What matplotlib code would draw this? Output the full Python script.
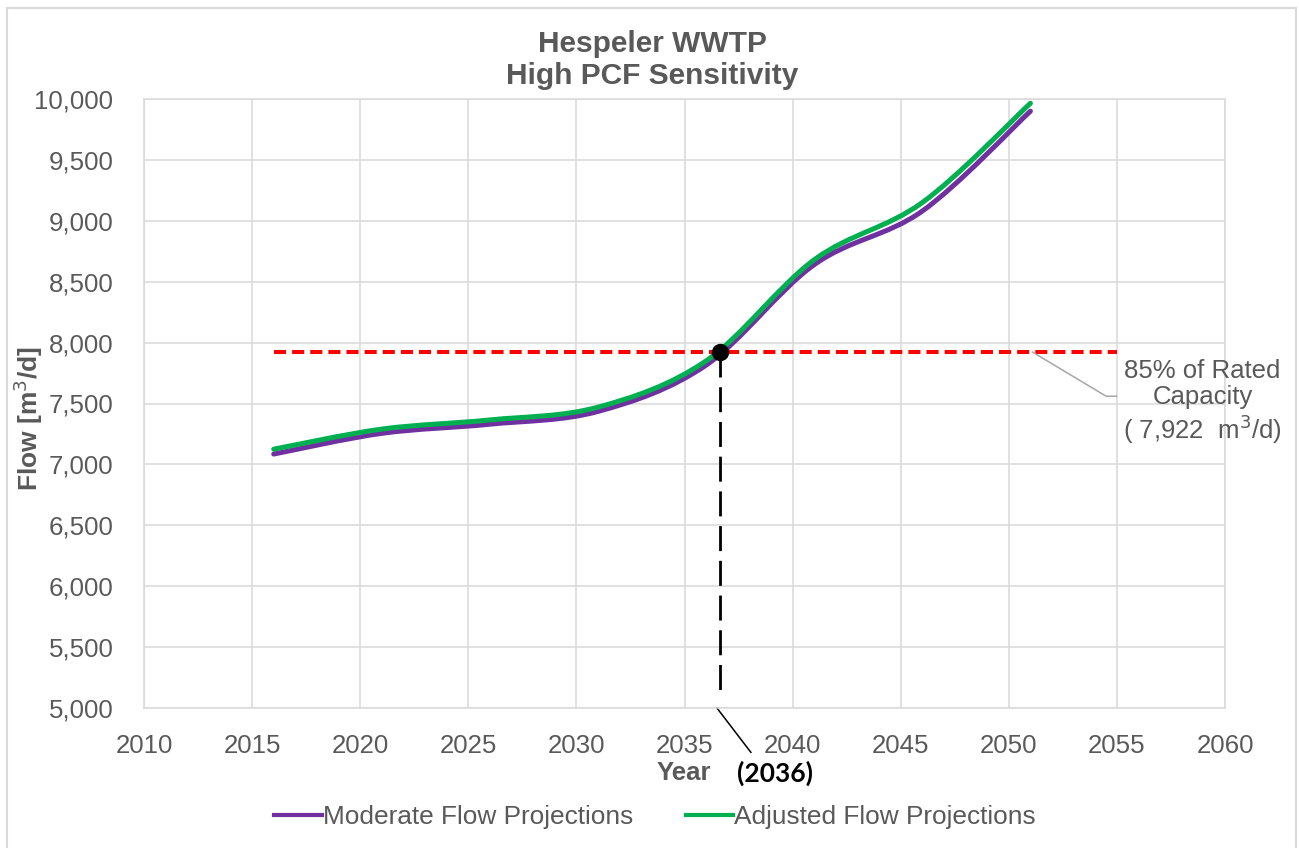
import numpy as np
import matplotlib.pyplot as plt
from matplotlib.path import Path
from matplotlib.patches import PathPatch, Rectangle
from matplotlib.lines import Line2D
from matplotlib.ticker import FuncFormatter

plt.rcParams['font.family'] = ['Liberation Sans', 'DejaVu Sans']

# ------------------------------------------------------------------
# data
years     = [2016, 2021, 2026, 2031, 2036, 2041, 2046, 2051]
moderate  = [7085, 7255, 7330, 7435, 7815, 8640, 9080, 9900]
adjusted  = [7125, 7290, 7365, 7470, 7850, 8680, 9150, 9965]

cap_years = [2016, 2055]
capacity  = 7922
cross_year = 2036.65
cross_label = "(2036)"

gray = '#595959'
grid = '#D9D9D9'


def smooth_path(x, y):
    # excel style smoothed line: bezier segments through the points
    x = np.asarray(x, float)
    y = np.asarray(y, float)
    pts = np.column_stack([x, y])
    n = len(pts)
    verts = [pts[0]]
    codes = [Path.MOVETO]
    for i in range(n - 1):
        p0 = pts[i - 1] if i > 0 else pts[i]
        p1 = pts[i]
        p2 = pts[i + 1]
        p3 = pts[i + 2] if i + 2 < n else pts[i + 1]
        c1 = p1 + (p2 - p0) / 6.0
        c2 = p2 - (p3 - p1) / 6.0
        verts += [c1, c2, p2]
        codes += [Path.CURVE4] * 3
    return Path(verts, codes)


fig = plt.figure(figsize=(12.99, 8.48), dpi=100)
ax = fig.add_axes([144/1299, 1-708/848, (1225-144)/1299, (708-99)/848])

ax.set_xlim(2010, 2060)
ax.set_ylim(5000, 10000)
ax.set_xticks(np.arange(2010, 2061, 5))
ax.set_yticks(np.arange(5000, 10001, 500))
ax.yaxis.set_major_formatter(FuncFormatter(lambda v, p: '{:,.0f}'.format(v)))
ax.tick_params(length=0, labelsize=18.6, labelcolor=gray)
ax.tick_params(axis='y', pad=22)
ax.tick_params(axis='x', pad=19)
ax.grid(True, color=grid, lw=1.1)
for s in ax.spines.values():
    s.set_color(grid)
    s.set_linewidth(1.1)
ax.set_axisbelow(True)

# projections
ax.add_patch(PathPatch(smooth_path(years, moderate), fill=False,
                       edgecolor='#7030A0', lw=3.6, capstyle='round', zorder=3))
ax.add_patch(PathPatch(smooth_path(years, adjusted), fill=False,
                       edgecolor='#00B050', lw=3.6, capstyle='round', zorder=4))

# 85% capacity line
ax.plot(cap_years, [capacity, capacity], color='#FF0000', lw=2.9,
        dashes=(3, 1.5), zorder=5)

# crossing point
ax.plot([cross_year, cross_year], [capacity, 5070], color='black', lw=2,
        dashes=(9, 3.5), zorder=5)
ax.plot(cross_year, capacity, 'o', color='black', ms=11.5, zorder=6)

# callouts
ax.plot([2051.1, 2054.5, 2054.97], [capacity, 7560, 7560], color='#A6A6A6',
        lw=1.1, clip_on=False, zorder=5)
ax.text(2058.96, 7510, "85% of Rated\nCapacity\n( 7,922  m$^3$/d)",
        ha='center', va='center', fontsize=18.5, color=gray, linespacing=1.12)

ax.plot([2036.5, 2038.07], [5000, 4636], color='black', lw=1.1, clip_on=False)
ax.text(2039.19, 4465, cross_label, ha='center', va='center', fontsize=19,
        fontweight='bold', color='black', family=['Lato', 'DejaVu Sans'])

# titles
fig.text(652/1299, 1-60/848, "Hespeler WWTP\nHigh PCF Sensitivity",
         ha='center', va='center', fontsize=21.5, fontweight='bold',
         color=gray, linespacing=1.17)
fig.text(684/1299, 1-773/848, "Year", ha='center', va='center',
         fontsize=18.5, fontweight='bold', color=gray)
fig.text(28/1299, 1-418/848, "Flow [m$^3$/d]", ha='center', va='center',
         rotation=90, fontsize=19, fontweight='bold', color=gray)

# legend
handles = [Line2D([], [], color='#7030A0', lw=3),
           Line2D([], [], color='#00B050', lw=3)]
fig.legend(handles, ["Moderate Flow Projections", "Adjusted Flow Projections"],
           loc='center', bbox_to_anchor=(655/1299, 1-817/848), ncol=2,
           frameon=False, fontsize=18.9, labelcolor=gray, handlelength=1.8,
           handletextpad=0.05, columnspacing=2.0)

# chart border
fig.patches.append(Rectangle((7/1299, -0.05), (1296-7)/1299, 1.05-8/848,
                             transform=fig.transFigure, fill=False,
                             edgecolor=grid, lw=1.5))

fig.savefig('out.png', dpi=100)
